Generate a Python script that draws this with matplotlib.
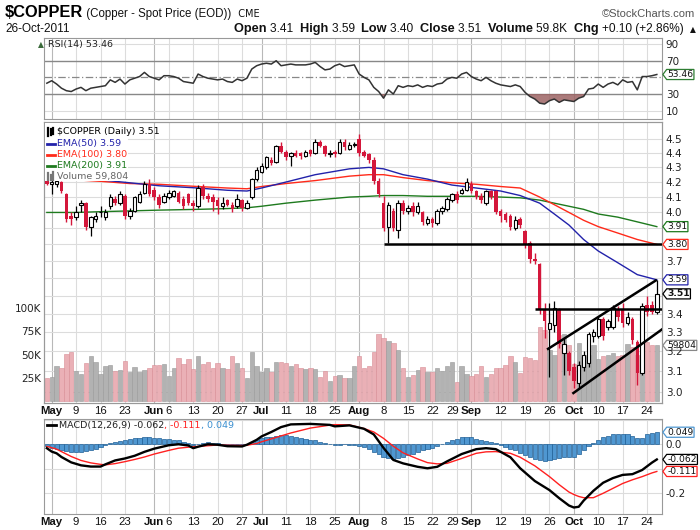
import numpy as np
import pandas as pd
import matplotlib.pyplot as plt
from matplotlib.lines import Line2D
from matplotlib.patches import Rectangle
from matplotlib.path import Path
from matplotlib.transforms import ScaledTranslation

# ---------------- data ----------------
# trading days shown (Apr 29 .. Oct 26 2011, US holidays skipped)
days = pd.bdate_range("2011-04-29", "2011-10-26").drop(
    pd.to_datetime(["2011-05-30", "2011-07-04", "2011-09-05"]))

opens = [4.21, 4.19, 4.19, 4.20, 4.12, 3.98, 3.97, 4.05, 4.06, 3.91,
         3.96, 4.00, 3.97, 4.04, 4.09, 4.06, 4.11, 3.98, 4.01, 4.07,
         4.13, 4.19, 4.15, 4.10, 4.07, 4.10, 4.11, 4.13, 4.09, 4.12,
         4.06, 4.04, 4.17, 4.11, 4.10, 4.08, 4.04, 4.08, 4.05, 4.04,
         4.08, 4.03, 4.10, 4.22, 4.27, 4.30, 4.35, 4.34, 4.45, 4.41,
         4.38, 4.40, 4.40, 4.38, 4.42, 4.40, 4.48, 4.45, 4.39, 4.41,
         4.40, 4.48, 4.43, 4.46, 4.50, 4.41, 4.39, 4.35, 4.21, 4.06,
         3.91, 4.01, 3.89, 4.06, 4.01, 4.04, 4.00, 4.00, 3.93, 3.96,
         3.93, 4.01, 4.02, 4.08, 4.12, 4.13, 4.15, 4.19, 4.14, 4.11,
         4.06, 4.14, 4.14, 4.01, 3.99, 3.98, 3.90, 3.96, 3.88, 3.81,
         3.71, 3.68, 3.42, 3.32, 3.34, 3.42, 3.19, 3.19, 3.12, 3.04,
         3.12, 3.14, 3.28, 3.28, 3.37, 3.33, 3.33, 3.42, 3.42, 3.35,
         3.37, 3.25, 3.09, 3.45, 3.45, 3.41]
highs = [4.23, 4.22, 4.22, 4.21, 4.13, 4.00, 4.04, 4.08, 4.07, 3.98,
         4.00, 4.04, 4.02, 4.12, 4.11, 4.14, 4.12, 4.03, 4.11, 4.14,
         4.21, 4.22, 4.17, 4.12, 4.13, 4.15, 4.15, 4.14, 4.11, 4.13,
         4.08, 4.18, 4.19, 4.13, 4.12, 4.10, 4.10, 4.09, 4.07, 4.12,
         4.09, 4.08, 4.23, 4.30, 4.33, 4.38, 4.37, 4.46, 4.48, 4.42,
         4.41, 4.42, 4.41, 4.42, 4.43, 4.50, 4.49, 4.46, 4.42, 4.42,
         4.50, 4.50, 4.48, 4.48, 4.54, 4.42, 4.40, 4.37, 4.23, 4.11,
         4.07, 4.03, 4.08, 4.08, 4.05, 4.07, 4.07, 4.01, 3.98, 3.97,
         4.02, 4.04, 4.10, 4.13, 4.14, 4.16, 4.23, 4.21, 4.15, 4.13,
         4.15, 4.15, 4.15, 4.02, 4.00, 3.99, 3.98, 3.97, 3.89, 3.82,
         3.75, 3.69, 3.46, 3.46, 3.47, 3.43, 3.27, 3.20, 3.14, 3.15,
         3.20, 3.30, 3.32, 3.38, 3.38, 3.37, 3.45, 3.44, 3.46, 3.41,
         3.38, 3.26, 3.46, 3.50, 3.47, 3.59]
lows = [4.18, 4.12, 4.17, 4.13, 3.94, 3.92, 3.95, 4.00, 3.89, 3.85,
        3.94, 3.97, 3.95, 4.02, 4.05, 4.05, 3.96, 3.96, 4.00, 4.06,
        4.12, 4.11, 4.08, 4.03, 4.06, 4.09, 4.10, 4.06, 4.02, 4.05,
        4.01, 4.03, 4.09, 4.07, 4.01, 3.99, 4.02, 4.04, 4.00, 4.03,
        4.01, 4.02, 4.09, 4.21, 4.26, 4.29, 4.32, 4.33, 4.40, 4.35,
        4.31, 4.37, 4.36, 4.37, 4.38, 4.39, 4.44, 4.38, 4.37, 4.37,
        4.39, 4.42, 4.42, 4.44, 4.38, 4.37, 4.33, 4.19, 4.10, 3.88,
        3.81, 3.88, 3.84, 3.99, 3.99, 3.98, 3.99, 3.92, 3.92, 3.91,
        3.92, 3.99, 4.01, 4.07, 4.06, 4.12, 4.14, 4.13, 4.09, 4.06,
        4.05, 4.09, 3.99, 3.94, 3.94, 3.89, 3.89, 3.90, 3.78, 3.69,
        3.68, 3.40, 3.27, 3.07, 3.30, 3.22, 3.08, 3.08, 3.02, 3.02,
        3.10, 3.12, 3.25, 3.27, 3.26, 3.31, 3.32, 3.36, 3.33, 3.34,
        3.24, 3.03, 3.08, 3.39, 3.40, 3.40]
closes = [4.19, 4.20, 4.21, 4.14, 3.96, 3.96, 4.00, 4.06, 3.91, 3.97,
          3.98, 4.005, 4.00, 4.10, 4.06, 4.12, 3.98, 4.01, 4.10, 4.12,
          4.19, 4.12, 4.10, 4.05, 4.11, 4.13, 4.14, 4.07, 4.04, 4.06,
          4.04, 4.16, 4.11, 4.09, 4.07, 4.04, 4.06, 4.05, 4.02, 4.09,
          4.03, 4.06, 4.22, 4.28, 4.31, 4.37, 4.33, 4.45, 4.41, 4.37,
          4.40, 4.38, 4.38, 4.41, 4.39, 4.48, 4.45, 4.39, 4.40, 4.39,
          4.48, 4.44, 4.46, 4.465, 4.40, 4.38, 4.35, 4.21, 4.12, 3.90,
          4.05, 3.90, 4.06, 4.01, 4.03, 4.00, 4.04, 3.94, 3.96, 3.93,
          4.01, 4.03, 4.09, 4.12, 4.08, 4.15, 4.20, 4.14, 4.10, 4.08,
          4.14, 4.10, 4.00, 3.98, 3.95, 3.91, 3.95, 3.92, 3.80, 3.71,
          3.70, 3.42, 3.36, 3.35, 3.43, 3.24, 3.24, 3.10, 3.05, 3.13,
          3.18, 3.29, 3.30, 3.37, 3.28, 3.36, 3.43, 3.38, 3.35, 3.38,
          3.26, 3.09, 3.44, 3.41, 3.41, 3.51]
volume_k = [25, 26, 38, 36, 51, 53, 32, 29, 41, 48,
            42, 29, 38, 39, 32, 33, 43, 31, 37, 31,
            33, 35, 39, 39, 40, 27, 35, 46, 40, 45,
            34, 48, 40, 42, 36, 41, 35, 34, 48, 41,
            35, 25, 53, 38, 31, 35, 31, 42, 42, 41,
            38, 40, 35, 34, 35, 34, 26, 32, 22, 27,
            28, 25, 25, 38, 48, 35, 38, 53, 72, 68,
            64, 62, 55, 35, 26, 28, 33, 37, 31, 31,
            36, 32, 38, 42, 20, 38, 29, 27, 29, 38,
            26, 29, 35, 35, 39, 48, 42, 30, 47, 46,
            44, 80, 76, 55, 50, 71, 72, 60, 40, 62,
            47, 50, 60, 45, 48, 50, 52, 48, 50, 61,
            58, 50, 61, 63, 60, 59.804]
rsi = [43, 46, 42, 37, 34, 33, 36, 38, 34, 37,
       38, 39, 40, 47, 44, 48, 42, 47, 49, 51,
       56, 51, 49, 47, 52, 52, 51, 49, 45, 44,
       43, 54, 51, 49, 48, 47, 48, 45, 44, 48,
       46, 49, 60, 64, 66, 67, 66, 70, 64, 65,
       66, 65, 65, 65, 66, 68, 63, 59, 60, 64,
       66, 63, 64, 65, 54, 50, 47, 38, 33, 25,
       35, 30, 40, 38, 40, 39, 41, 38, 40, 39,
       42, 43, 48, 50, 49, 54, 56, 51, 48, 46,
       50, 46, 43, 41, 40, 39, 41, 39, 32, 27,
       24, 19, 18, 22, 24, 20, 23, 22, 21, 25,
       27, 36, 37, 42, 38, 42, 44, 41, 47, 44,
       45, 35, 51, 51, 52, 53.46]
hist = [-0.008, -0.014, -0.018, -0.024, -0.028, -0.030, -0.031, -0.030, -0.028, -0.024,
        -0.018, -0.012, -0.004, 0.004, 0.010, 0.014, 0.016, 0.020, 0.024, 0.026,
        0.028, 0.028, 0.026, 0.024, 0.022, 0.020, 0.018, 0.016, 0.010, 0.004,
        -0.004, 0.000, 0.004, 0.008, 0.006, 0.004, 0.002, -0.002, -0.004, -0.002,
        -0.002, 0.002, 0.010, 0.018, 0.024, 0.028, 0.030, 0.034, 0.036, 0.036,
        0.034, 0.030, 0.026, 0.022, 0.018, 0.016, 0.010, 0.006, 0.002, -0.002,
        -0.002, 0.000, -0.002, -0.004, -0.008, -0.012, -0.020, -0.030, -0.040, -0.052,
        -0.058, -0.060, -0.056, -0.050, -0.044, -0.038, -0.030, -0.024, -0.020, -0.014,
        -0.008, 0.000, 0.008, 0.016, 0.022, 0.028, 0.030, 0.028, 0.022, 0.016,
        0.014, 0.010, 0.006, -0.004, -0.012, -0.018, -0.024, -0.034, -0.044, -0.054,
        -0.062, -0.066, -0.068, -0.064, -0.060, -0.058, -0.054, -0.052, -0.050, -0.040,
        -0.024, -0.008, 0.004, 0.016, 0.028, 0.034, 0.040, 0.042, 0.042, 0.040,
        0.034, 0.024, 0.026, 0.040, 0.044, 0.049]

# moving averages, read at a few bars (bar 0 = Apr 29)
ema_x = [0, 6, 11, 17, 23, 31, 37, 41, 44, 49, 55, 62, 66, 69, 73, 78, 83, 88, 93, 97,
         101, 104, 107, 110, 113, 117, 121, 125]
ema50 = [4.24, 4.23, 4.215, 4.195, 4.175, 4.16, 4.145, 4.14, 4.16, 4.20,
         4.25, 4.29, 4.30, 4.29, 4.25, 4.22, 4.18, 4.16, 4.14, 4.11,
         4.06, 3.99, 3.92, 3.83, 3.76, 3.69, 3.62, 3.59]
ema100 = [4.22, 4.215, 4.205, 4.19, 4.185, 4.17, 4.16, 4.155, 4.17, 4.19,
          4.21, 4.24, 4.25, 4.25, 4.23, 4.21, 4.195, 4.185, 4.17, 4.16,
          4.10, 4.05, 4.00, 3.95, 3.91, 3.87, 3.83, 3.80]
ema200 = [4.00, 4.00, 4.005, 4.01, 4.015, 4.02, 4.025, 4.03, 4.04, 4.06,
          4.08, 4.10, 4.105, 4.11, 4.11, 4.105, 4.105, 4.105, 4.10, 4.095,
          4.08, 4.06, 4.04, 4.02, 3.99, 3.97, 3.94, 3.91]

macd_x = [0, 1, 2, 3, 5, 7, 9, 11, 12, 14, 16, 18, 20, 22, 25, 27, 29, 30, 31, 33,
          35, 37, 40, 41, 43, 44, 46, 48, 50, 54, 58, 59, 62, 65, 67, 69, 71, 73, 76, 78,
          80, 82, 85, 88, 90, 92, 95, 97, 100, 103, 105, 107, 108, 109, 110, 112, 114, 116,
          118, 120, 122, 124, 125]
macd = [-0.016, -0.030, -0.037, -0.052, -0.074, -0.086, -0.091, -0.091, -0.082, -0.066,
        -0.058, -0.047, -0.031, -0.018, -0.004, 0.000, -0.005, -0.016, -0.010, 0.000,
        -0.002, -0.008, -0.009, -0.002, 0.018, 0.032, 0.050, 0.070, 0.081, 0.083,
        0.079, 0.073, 0.077, 0.063, 0.040, -0.015, -0.064, -0.078, -0.092, -0.098,
        -0.092, -0.070, -0.040, -0.020, -0.016, -0.020, -0.053, -0.098, -0.150, -0.187,
        -0.220, -0.250, -0.258, -0.255, -0.230, -0.190, -0.157, -0.138, -0.125, -0.122,
        -0.105, -0.075, -0.062]
signal = [-0.009, -0.014, -0.020, -0.030, -0.050, -0.066, -0.076, -0.082, -0.084, -0.079,
          -0.071, -0.062, -0.052, -0.040, -0.025, -0.016, -0.012, -0.010, -0.009, -0.006,
          -0.003, -0.004, -0.005, -0.004, 0.003, 0.010, 0.022, 0.034, 0.046, 0.066,
          0.078, 0.080, 0.079, 0.064, 0.050, 0.024, -0.008, -0.035, -0.060, -0.075,
          -0.080, -0.078, -0.058, -0.037, -0.031, -0.030, -0.037, -0.053, -0.088, -0.132,
          -0.165, -0.195, -0.205, -0.213, -0.218, -0.218, -0.200, -0.180, -0.160, -0.145,
          -0.132, -0.117, -0.111]

# hand drawn lines on the chart: (bar0, price0, bar1, price1)
trend_lines = [(69, 3.80, 127, 3.80),
               (100, 3.425, 127, 3.425),
               (102.5, 3.21, 125, 3.59),
               (107.7, 2.99, 126.3, 3.32)]

# ---------------- figure ----------------
W, H = 700, 530
fig = plt.figure(figsize=(7, 5.3), dpi=100)
NARROW = ["Liberation Sans Narrow", "Liberation Sans", "DejaVu Sans"]
DJ = ["DejaVu Sans"]
RED = "#d4173b"
GRIDC = "#dcdcdc"
MONTHC = "#b8b8b8"


def fx(px):
    return px / W


def fy(py):
    return 1 - py / H


L, R = 44, 661.7
ax_r = fig.add_axes([fx(L), fy(119), fx(R) - fx(L), (119 - 38) / H])
ax_v = fig.add_axes([fx(L), fy(403), fx(R) - fx(L), (403 - 122) / H])
ax_p = ax_v.twinx()
ax_m = fig.add_axes([fx(L), fy(514), fx(R) - fx(L), (514 - 419) / H])

o = np.array(opens)
h = np.array(highs)
lo = np.array(lows)
c = np.array(closes)
x = np.arange(len(days))
XL = (-0.58, 126.0)

# tick positions from the calendar
first = ~pd.Series(days.month).duplicated().values
tick_pos, tick_lab, is_month = [], [], []
for i, d in enumerate(days):
    if first[i] and d.month != 4:
        tick_pos.append(i); tick_lab.append(d.strftime("%b")); is_month.append(True)
    elif d.weekday() == 0 and not first[i]:
        tick_pos.append(i); tick_lab.append(str(d.day)); is_month.append(False)

for a in (ax_r, ax_v, ax_m):
    a.set_xlim(*XL)
    for p, m in zip(tick_pos, is_month):
        a.axvline(p, color=MONTHC if m else GRIDC, lw=0.8, zorder=0)
for a in (ax_r, ax_v, ax_p, ax_m):
    for s in a.spines.values():
        s.set_color("#999999")
        s.set_linewidth(0.8)

# ---------------- RSI panel ----------------
ax_r.set_ylim(0, 97.3)
for lvl in (10, 90):
    ax_r.axhline(lvl, color=GRIDC, lw=0.8, zorder=0)
ax_r.axhline(70, color="#888888", lw=1, zorder=1)
ax_r.axhline(30, color="#888888", lw=1, zorder=1)
ax_r.axhline(50, color="#888888", lw=0.9, ls=(0, (6, 2, 1, 2)), zorder=1)
rv = np.array(rsi, dtype=float)
ax_r.fill_between(x, rv, 30, where=rv < 30, interpolate=True, color="#9c6464", alpha=0.85, lw=0, zorder=2)
ax_r.plot(x, rv, color="#333333", lw=1.1, zorder=3)
ax_r.set_xticks([])
ax_r.yaxis.tick_right()
ax_r.set_yticks([10, 30, 70, 90])
ax_r.tick_params(axis="y", length=0, pad=3, labelsize=7.5, labelcolor="#222222")

# ---------------- price + volume panel ----------------
ax_v.set_ylim(-2.15, 300)
ax_v.set_yticks([25, 50, 75, 100], ["25K", "50K", "75K", "100K"])
ax_v.tick_params(axis="y", length=0, pad=2, labelsize=7.5, labelcolor="#222222")
down = c < o
vcol = np.where(down, "#eab0b6", "#b2b2b2")
ecol = np.where(down, "#d88c95", "#999999")
ax_v.bar(x, volume_k, width=0.9, color=vcol, edgecolor=ecol, lw=0.4, zorder=1)

PMIN, PMAX = 2.946, 4.625
ax_p.set_yscale("log")
ax_p.set_ylim(PMIN, PMAX)
ax_p.set_xlim(*XL)
prices = np.round(np.arange(3.0, 4.51, 0.1), 1)
for pr in prices:
    f = np.log(pr / PMIN) / np.log(PMAX / PMIN)
    ax_v.plot([0, 1], [f, f], transform=ax_v.transAxes, color=GRIDC, lw=0.8, zorder=0)
# labels hidden under the value tags are left out
shown = [pr for pr in prices if pr not in (3.5, 3.6, 3.8, 3.9)]
ax_p.set_yticks(shown, [f"{pr:.1f}" for pr in shown])
ax_p.yaxis.set_minor_locator(plt.NullLocator())
ax_p.tick_params(axis="y", length=0, pad=3, labelsize=7.5, labelcolor="#222222")

ax_p.plot(ema_x, ema200, color="#1e7a1e", lw=1, zorder=2)
ax_p.plot(ema_x, ema100, color="#ff2a1a", lw=1, zorder=2)
ax_p.plot(ema_x, ema50, color="#2222aa", lw=1, zorder=2)

lo_b = np.minimum(o, c)
hi_b = np.maximum(o, c)
ht = np.maximum(hi_b - lo_b, 0.004)
ax_p.vlines(x[down], lo[down], h[down], color=RED, lw=1, zorder=3)
ax_p.vlines(x[~down], lo[~down], h[~down], color="black", lw=0.9, zorder=3)
ax_p.bar(x[down], ht[down], bottom=lo_b[down], width=0.72, color=RED, lw=0, zorder=4)
ax_p.bar(x[~down], ht[~down], bottom=lo_b[~down], width=0.72, facecolor="white",
         edgecolor="black", lw=0.8, zorder=4)

for x0, p0, x1, p1 in trend_lines:
    ax_p.plot([x0, x1], [p0, p1], color="black", lw=1.8, zorder=5, solid_capstyle="butt")

# ---------------- MACD panel ----------------
ax_m.set_ylim(-0.2845, 0.103)
for lvl in (0.1, 0.0, -0.1, -0.2):
    ax_m.axhline(lvl, color=GRIDC, lw=0.8, zorder=0)
ax_m.bar(x, hist, width=0.85, color="#4f97d1", edgecolor="#1f5f96", lw=0.5, zorder=2)
ax_m.plot(macd_x, signal, color="#ff2020", lw=1, zorder=3)
ax_m.plot(macd_x, macd, color="black", lw=1.7, zorder=4)
ax_m.yaxis.tick_right()
ax_m.set_yticks([0.0, -0.2], ["0.0", "-0.2"])
ax_m.tick_params(axis="y", length=0, pad=3, labelsize=7.5, labelcolor="#222222")

# date labels; a day label just before a month label is nudged left like on the chart
nudge = [(not m) and any(q - p <= 3 and q > p for q, mm in zip(tick_pos, is_month) if mm)
         for p, m in zip(tick_pos, is_month)]
for a in (ax_v, ax_m):
    a.set_xticks(tick_pos, tick_lab)
    a.tick_params(axis="x", length=0, pad=2, labelsize=8.2, labelcolor="#111111")
    for t, m, n in zip(a.get_xticklabels(), is_month, nudge):
        t.set_family(NARROW)
        if m:
            t.set_fontweight("bold")
        if n:
            t.set_transform(t.get_transform() + ScaledTranslation(-3 / 72, 0, fig.dpi_scale_trans))


# ---------------- value tags on the right ----------------
def tag_shape(x0, y0, width, height, mutation_size):
    pad = 0.06 * mutation_size
    x0, y0 = x0 - pad, y0 - pad
    w, hh = width + 2 * pad, height + 2 * pad
    tip = hh * 0.38
    return Path([(x0 - tip, y0 + hh / 2), (x0, y0), (x0 + w, y0), (x0 + w, y0 + hh),
                 (x0, y0 + hh), (x0 - tip, y0 + hh / 2)], closed=True)


def tag(a, val, label, ec, bold=False):
    a.annotate(label, xy=(1, val), xycoords=("axes fraction", "data"), xytext=(4, 0),
               textcoords="offset points", ha="left", va="center", fontsize=6.6,
               fontweight="bold" if bold else "normal", color="#111111", zorder=8,
               annotation_clip=False,
               bbox=dict(boxstyle=tag_shape, fc="white", ec=ec, lw=0.9))


tag(ax_r, 53.46, "53.46", "#2e7d32")
tag(ax_p, 3.91, "3.91", "#1e7a1e")
tag(ax_p, 3.80, "3.80", "#ff2a1a")
tag(ax_p, 3.59, "3.59", "#2222aa")
tag(ax_p, 3.51, "3.51", "black", bold=True)
tag(ax_v, 59.804, "59804", "#888888")
tag(ax_m, 0.049, "0.049", "#4f97d1")
tag(ax_m, -0.062, "-0.062", "black")
tag(ax_m, -0.111, "-0.111", "#ff2020")

# ---------------- legends ----------------
fig.add_artist(Rectangle((fx(45), fy(181)), fx(128) - fx(45), (181 - 123) / H,
                         transform=fig.transFigure, fc="white", ec="none", zorder=1))
leg = [("$COPPER (Daily) 3.51", "black", 132),
       ("EMA(50) 3.59", "#2222aa", 143.5),
       ("EMA(100) 3.80", "#ff2a1a", 154.5),
       ("EMA(200) 3.91", "#1e7a1e", 165.5),
       ("Volume 59,804", "#666666", 176.5)]
for txt, col, yy in leg:
    fig.text(fx(57), fy(yy), txt, color=col, fontsize=6.8, va="center", ha="left")
for col, yy in [("#2222aa", 143.5), ("#ff2a1a", 154.5), ("#1e7a1e", 165.5)]:
    fig.add_artist(Line2D([fx(47), fx(55)], [fy(yy), fy(yy)], color=col, lw=2,
                          transform=fig.transFigure))
for dx, y0, y1 in [(48, 128, 136), (50.5, 129, 135), (53, 128, 134)]:
    fig.add_artist(Line2D([fx(dx), fx(dx)], [fy(y1), fy(y0)], color="black", lw=1.6,
                          transform=fig.transFigure))
for dx, y0 in [(48, 173), (50.5, 175), (53, 172)]:
    fig.add_artist(Line2D([fx(dx), fx(dx)], [fy(180), fy(y0)], color="#777777", lw=1.6,
                          transform=fig.transFigure))
fig.text(fx(48), fy(45), "RSI(14) 53.46", fontsize=6.8, va="center", ha="left", color="#222222")
fig.text(fx(38), fy(45), "\u25B2", fontsize=5.5, va="center", ha="left", color="#3a6a3a")

renderer = fig.canvas.get_renderer()


def text_runs(parts, x0, y0, align="left"):
    objs = []
    for s, wt, col, fs, fam in parts:
        objs.append(fig.text(0, 0, s, fontsize=fs, fontweight=wt, color=col, family=fam,
                             va="baseline", ha="left"))
    widths = [t.get_window_extent(renderer).width for t in objs]
    xx = x0 - sum(widths) if align == "right" else x0
    for t, w in zip(objs, widths):
        t.set_position((fx(xx), fy(y0)))
        xx += w


fig.add_artist(Line2D([fx(47), fx(56)], [fy(425), fy(425)], color="black", lw=2,
                      transform=fig.transFigure))
text_runs([("MACD(12,26,9) -0.062", "normal", "#222222", 6.8, DJ),
           (", -0.111", "normal", "#ff2020", 6.8, DJ),
           (", 0.049", "normal", "#3a8fd0", 6.8, DJ)], 59, 428)

# ---------------- header ----------------
text_runs([("$COPPER", "bold", "black", 11.8, NARROW),
           (" (Copper - Spot Price (EOD))", "normal", "#111111", 8.3, NARROW),
           ("  CME", "normal", "#111111", 7, DJ)], 5, 17)
fig.text(fx(695), fy(17), "\u00A9StockCharts.com", fontsize=8, color="#555555",
         ha="right", va="baseline", family=NARROW)
fig.text(fx(5), fy(32), "26-Oct-2011", fontsize=8.5, color="#111111", va="baseline", family=NARROW)
hdr = []
for lab, val in [("Open", "3.41"), ("High", "3.59"), ("Low", "3.40"), ("Close", "3.51"),
                 ("Volume", "59.8K"), ("Chg", "+0.10 (+2.86%)")]:
    hdr.append((lab + " ", "bold", "#111111", 9.2, NARROW))
    hdr.append((val + "  ", "normal", "#111111", 8.6, NARROW))
hdr.append(("\u25B2", "normal", "#111111", 5.5, DJ))
text_runs(hdr, 696, 32, align="right")

fig.savefig("out.png", dpi=100)
